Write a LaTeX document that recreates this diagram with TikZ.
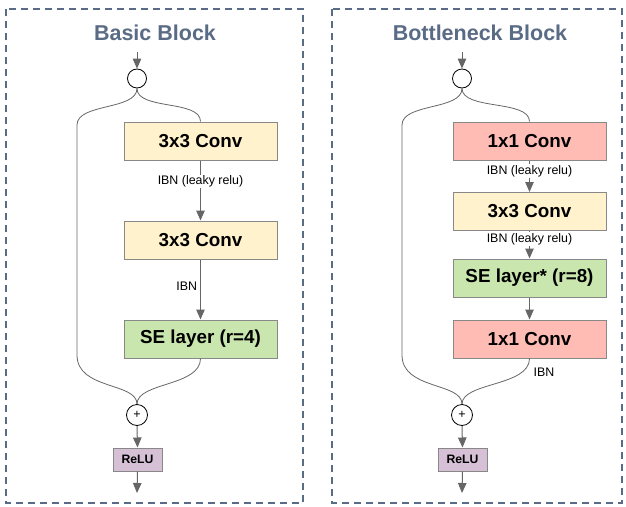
\documentclass[tikz,border=0pt]{standalone}
\usepackage{fontspec}
\setmainfont{Liberation Sans}
\usetikzlibrary{arrows.meta}
\definecolor{frame}{HTML}{5A6B86}
\definecolor{yel}{HTML}{FFF2CC}
\definecolor{pnk}{HTML}{FFBCB4}
\definecolor{grn}{HTML}{C8E6AD}
\definecolor{pur}{HTML}{D5C0D5}
\definecolor{ln}{HTML}{666666}
\definecolor{bx}{HTML}{888888}
\tikzset{
  frm/.style={draw=frame, line width=1.1pt, dash pattern=on 7pt off 5pt},
  ttl/.style={text=frame, font=\fontsize{21.5}{24}\selectfont\bfseries},
  blk/.style={draw=bx, line width=1pt, minimum width=153pt, minimum height=38pt, inner sep=0pt, font=\fontsize{18.8}{20}\selectfont\bfseries},
  lbl/.style={fill=white, inner sep=1pt, font=\fontsize{12.4}{14}\selectfont},
  lblnf/.style={inner sep=1pt, font=\fontsize{12.4}{14}\selectfont},
  crc/.style={circle, draw=black, line width=0.8pt, minimum size=19pt, inner sep=0pt},
  pls/.style={circle, draw=black, line width=0.8pt, minimum size=21pt, inner sep=0pt, font=\fontsize{12.5}{13}\selectfont},
  relu/.style={draw=bx, fill=pur, line width=1pt, minimum width=49pt, minimum height=23pt, inner sep=0pt, font=\fontsize{12.2}{14}\selectfont\bfseries},
  arr/.style={draw=ln, line width=1pt, -{Triangle[length=10pt,width=8.5pt]}},
  cur/.style={draw=ln, line width=0.8pt},
}
\begin{document}
\begin{tikzpicture}[x=1pt,y=-1pt]
\useasboundingbox (0,0) rectangle (626,506);
% frames
\draw[frm] (6,9) rectangle (303,503);
\draw[frm] (332,9) rectangle (622,503);
\node[ttl] (t1) at (155,33) {Basic Block};
\node[ttl] (t2) at (480,33) {Bottleneck Block};

% ---------- Basic block ----------
\coordinate (in1) at (137,52);
\node[crc] (c1) at (137,78.5) {};
\node[blk, fill=yel] (a1) at (200.5,141) {3x3 Conv};
\node[blk, fill=yel] (a2) at (200.5,240) {3x3 Conv};
\node[blk, fill=grn] (a3) at (200.5,339) {SE layer (r=4)};
\node[pls] (p1) at (137,415) {+};
\node[relu] (r1) at (137.5,459.5) {ReLU};
\coordinate (o1) at (137,493);
\coordinate (sl1) at (77,125);
\coordinate (sl2) at (77,355);

\draw[arr] (in1) -- (c1.north);
\draw[cur] (c1.south) .. controls +(0,22) and +(0,-22) .. (a1.north);
\draw[cur] (c1.south) .. controls +(0,22) and +(0,-22) .. (sl1) -- (sl2)
  .. controls +(0,35) and +(0,-22) .. (p1.north);
\draw[cur] (a3.south) .. controls +(0,28) and +(0,-22) .. (p1.north);
\draw[arr] (a1.south) -- node[lbl, pos=0.35] (l1) {IBN (leaky relu)} (a2.north);
\draw[arr] (a2.south) -- node[lblnf, pos=0.45, left=2pt] (l2) {IBN} (a3.north);
\draw[arr] (p1.south) -- (r1.north);
\draw[arr] (r1.south) -- (o1);

% ---------- Bottleneck block ----------
\coordinate (in2) at (462,52);
\node[crc] (c2) at (462,78.5) {};
\node[blk, fill=pnk] (b1) at (529.5,141) {1x1 Conv};
\node[blk, fill=yel] (b2) at (529.5,211.5) {3x3 Conv};
\node[blk, fill=grn] (b3) at (529.5,278) {SE layer* (r=8)};
\node[blk, fill=pnk] (b4) at (529.5,339) {1x1 Conv};
\node[pls] (p2) at (462,415) {+};
\node[relu] (r2) at (462.5,459.5) {ReLU};
\coordinate (o2) at (462,493);
\coordinate (sr1) at (402,125);
\coordinate (sr2) at (402,355);

\draw[arr] (in2) -- (c2.north);
\draw[cur] (c2.south) .. controls +(0,22) and +(0,-22) .. (b1.north);
\draw[cur] (c2.south) .. controls +(0,22) and +(0,-22) .. (sr1) -- (sr2)
  .. controls +(0,35) and +(0,-22) .. (p2.north);
\draw[cur] (b4.south) .. controls +(0,28) and +(0,-22) .. (p2.north);
\draw[arr] (b1.south) -- node[lbl, pos=0.34] (l3) {IBN (leaky relu)} (b2.north);
\draw[arr] (b2.south) -- node[lbl, pos=0.3] (l4) {IBN (leaky relu)} (b3.north);
\draw[arr] (b3.south) -- (b4.north);
\node[lblnf] (l5) at (544,372) {IBN};
\draw[arr] (p2.south) -- (r2.north);
\draw[arr] (r2.south) -- (o2);
\end{tikzpicture}
\end{document}
